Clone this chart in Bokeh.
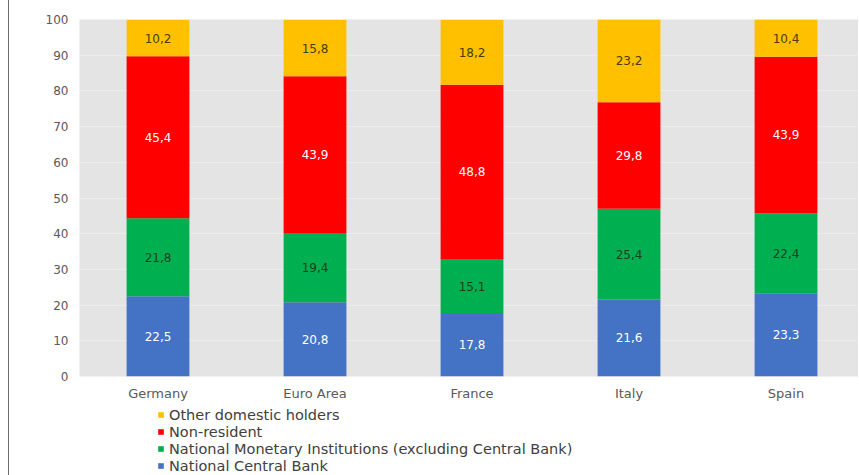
import numpy as np
from bokeh.plotting import figure
from bokeh.layouts import column
from bokeh.models import ColumnDataSource, Range1d, FixedTicker, Legend, LegendItem
from bokeh.core.properties import value
from bokeh.embed import file_html
from bokeh.resources import INLINE

categories = ["Germany", "Euro Area", "France", "Italy", "Spain"]
series_names = ["National Central Bank",
                "National Monetary Institutions (excluding Central Bank)",
                "Non-resident",
                "Other domestic holders"]
ncb = [22.5, 20.8, 17.8, 21.6, 23.3]
nmi = [21.8, 19.4, 15.1, 25.4, 22.4]
nonres = [45.4, 43.9, 48.8, 29.8, 43.9]
other = [10.2, 15.8, 18.2, 23.2, 10.4]
y_ticks = [0, 10, 20, 30, 40, 50, 60, 70, 80, 90, 100]

colors = ["#4472C4", "#00B050", "#FF0000", "#FFC000"]
label_colors = ["#ffffff", "#1c3f1f", "#ffffff", "#4a3d00"]
keys = ["ncb", "nmi", "nonres", "other"]
series = [ncb, nmi, nonres, other]

xs = list(range(len(categories)))
data = {"x": xs}
for k, s in zip(keys, series):
    data[k] = s
src = ColumnDataSource(data)

FONT = "DejaVu Sans"
BORDER = {"margin-left": "8px", "border-left": "1px solid #6b6b6b"}

p = figure(width=850, height=403, output_backend="svg", toolbar_location=None,
           x_range=Range1d(-0.5, 4.468), y_range=Range1d(0, 100),
           min_border_left=70, min_border_right=0, min_border_top=19,
           min_border_bottom=27,
           background_fill_color="#E4E4E4", border_fill_color="white",
           outline_line_color=None)

rends = p.vbar_stack(keys, x="x", width=0.4, source=src, color=colors, line_color=None)

# labels
arr = np.array(series)
bottoms = np.vstack([np.zeros(len(categories)), np.cumsum(arr, axis=0)[:-1]])
centers = bottoms + arr / 2
for i, s in enumerate(series):
    lsrc = ColumnDataSource(dict(x=xs, y=list(centers[i]),
                                 t=[f"{v:.1f}".replace(".", ",") for v in s]))
    p.text(x="x", y="y", text="t", source=lsrc, text_align="center",
           text_baseline="middle", text_font=value(FONT), text_font_size="12px",
           text_color=label_colors[i])

p.xaxis.ticker = FixedTicker(ticks=xs)
p.xaxis.major_label_overrides = {i: c for i, c in enumerate(categories)}
p.yaxis.ticker = FixedTicker(ticks=y_ticks)
for ax in (p.xaxis[0], p.yaxis[0]):
    ax.axis_line_color = None
    ax.major_tick_line_color = None
    ax.minor_tick_line_color = None
    ax.major_tick_out = 0
    ax.major_tick_in = 0
    ax.minor_tick_out = 0
    ax.minor_tick_in = 0
    ax.major_label_text_font = FONT
    ax.major_label_text_color = "#595959"
p.xaxis.major_label_text_font_size = "13px"
p.xaxis.major_label_standoff = 9
p.yaxis.major_label_text_font_size = "12px"
p.yaxis.major_label_standoff = 11
p.xgrid.grid_line_color = None
p.ygrid.grid_line_color = "#ECECEC"
p.styles = BORDER

# legend panel below the chart
p2 = figure(width=850, height=72, output_backend="svg", toolbar_location=None,
            x_range=Range1d(0, 1), y_range=Range1d(0, 1),
            x_axis_location=None, y_axis_location=None,
            min_border_left=70, min_border_right=0, min_border_top=0,
            min_border_bottom=0, outline_line_color=None,
            background_fill_color="white", border_fill_color="white")
p2.grid.visible = False
p2.styles = BORDER
dummy = [p2.vbar(x=[0.5], top=[0], bottom=[0], width=0.1, color=c, line_color=None)
         for c in colors]

items = [LegendItem(label=series_names[i], renderers=[dummy[i]]) for i in [3, 2, 1, 0]]
leg = Legend(items=items, location=(78, 1), orientation="vertical",
             background_fill_alpha=0, border_line_color=None,
             padding=0, margin=0, spacing=0,
             glyph_width=7, glyph_height=7, label_height=17, label_standoff=5,
             label_text_font=FONT, label_text_font_size="14.5px",
             label_text_color="#404040")
p2.add_layout(leg, "center")

layout = column(p, p2, spacing=0)

open("out.html", "w").write(file_html(layout, INLINE))
